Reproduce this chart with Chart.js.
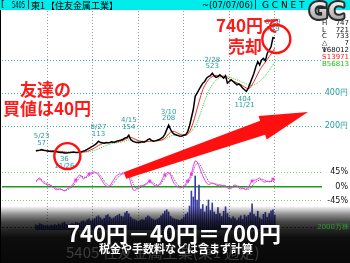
<!DOCTYPE html>
<html>
<head>
<meta charset="utf-8">
<script src="https://cdn.jsdelivr.net/npm/chart.js@4/dist/chart.umd.min.js"></script>
<style>
  html, body { margin: 0; padding: 0; background: #fff; }
  #wrap { position: relative; width: 350px; height: 263px; overflow: hidden; }
  canvas { display: block; }
</style>
</head>
<body>
<div id="wrap"><canvas id="c" width="350" height="263"></canvas></div>
<script>
// half-month periods, 2002/04 (first half) .. 2007/07 (first half)
const periods = [];
for (let y = 2002; y <= 2007; y++) {
  for (let m = 1; m <= 12; m++) {
    if (y === 2002 && m < 4) continue;
    if (y === 2007 && m > 7) continue;
    periods.push(`${y}/${m}a`);
    if (!(y === 2007 && m === 7)) periods.push(`${y}/${m}b`);
  }
}

// weekly close (yen)
const close = [
  50,52,54,57,53,51,49,47,46,47,45,44,41,40,39,36,37,38,
  40,41,42,40,39,42,44,48,52,58,65,72,78,85,95,108,100,98,96,100,98,100,104,102,
  105,110,112,115,120,128,130,145,118,108,104,100,102,100,104,102,108,118,122,112,108,110,114,118,
  125,132,150,178,205,180,160,150,146,142,138,140,144,148,165,200,250,300,380,400,420,440,460,470,
  490,500,505,520,505,495,500,510,500,490,505,460,470,480,470,460,450,455,445,430,420,410,430,460,
  490,520,560,590,570,600,610,595,640,660,680,735,733
];
// 13-week average (red)
const ma13 = [
  50,51,52,53,53,53,52,51,50,49,48,47,46,45,44,42,41,40,
  39,39,39,40,40,40,41,42,44,47,51,56,62,68,75,82,88,93,96,98,99,99,100,101,
  102,104,107,110,114,119,124,129,130,128,123,117,112,108,106,105,105,106,108,110,111,111,111,112,
  115,119,126,138,152,163,168,167,162,156,150,146,143,143,150,165,190,222,262,305,345,385,420,445,
  465,480,492,500,505,507,505,503,503,502,500,492,484,478,472,468,462,456,452,445,437,430,427,432,
  450,470,492,515,538,556,572,588,604,620,636,655,672
];
// 26-week average (green dotted)
const ma26 = [
  50,50,51,51,52,52,52,51,51,50,50,49,48,47,46,45,44,43,
  42,41,41,40,40,40,40,41,42,43,45,47,50,53,57,62,67,72,77,82,86,90,93,95,
  97,99,101,103,106,109,112,115,117,117,116,114,112,110,109,108,107,106,106,107,108,109,110,111,
  113,116,120,126,133,139,144,147,149,150,150,150,149,149,151,157,168,185,195,220,250,285,320,352,
  382,410,432,450,466,478,488,495,499,501,502,500,497,493,488,484,480,476,470,465,460,455,450,447,
  447,450,455,462,470,480,492,505,520,535,552,570,590
];
// oscillator (%), magenta, and its signal (grey dotted)
const osc = [
  17,23,27,17,11,8,5,5,2,-2,-8,-11,-8,-8,-11,-14,-11,-5,
  -2,2,11,20,30,36,33,23,27,33,39,42,45,45,42,36,27,17,8,2,-2,2,11,20,
  30,36,39,39,42,42,39,33,11,-8,-14,-8,-2,2,2,5,8,14,17,11,5,2,2,5,
  14,27,36,42,45,36,20,8,2,-2,-5,-2,2,8,17,27,39,64,80,77,64,48,33,20,
  11,5,8,11,8,5,2,5,2,2,2,-5,-8,-5,2,5,2,-5,-8,-5,-8,-11,-5,8,
  17,20,20,23,27,20,14,14,17,14,17,23,20
];
const sig = [
  15,19,23,22,17,12,8,6,4,1,-3,-7,-9,-9,-10,-12,-12,-9,
  -6,-2,4,12,20,28,32,30,28,29,33,38,41,43,43,40,34,26,17,10,4,1,4,10,
  19,27,33,37,39,40,40,37,28,14,0,-7,-8,-4,0,3,5,9,13,14,11,7,4,4,
  8,17,27,35,40,40,32,21,11,4,0,-2,-1,3,10,19,30,48,65,73,72,64,52,39,
  27,17,11,9,9,8,6,5,4,3,2,0,-3,-5,-3,0,2,1,-2,-5,-6,-7,-9,-7,
  0,9,15,18,20,23,22,18,16,15,15,15,18
];
const oscMarks = [21, 28, 48, 60, 68, 80, 82, 114, 125];
// volume (万株)
const vol = [
  3500,3000,4200,3800,3200,2800,3000,2600,3300,2900,3600,3100,4000,3400,4600,5200,3900,3300,
  3600,4200,3900,5100,4800,4400,5600,6200,5400,6800,7400,6100,6900,7600,8800,9500,8200,7000,7800,9600,10200,8600,7400,8000,
  9000,9800,10500,9200,8800,11500,12500,10800,8600,7400,6900,6200,5800,6400,7000,6600,8200,9400,8800,7600,7000,6500,7200,8000,
  9500,10800,12600,13500,12000,9200,8000,7400,7000,6600,6400,7200,8600,10500,11500,16000,26000,22000,36000,20000,30000,14000,17000,12000,
  16000,20000,13000,18000,12000,10500,15000,11000,9000,12500,15500,11000,8500,7500,8800,7600,6200,8000,9500,7200,10000,8800,9800,11500,
  17500,10500,9000,12500,8000,7000,10500,11800,8500,11000,12800,13500,10000
];

// axis ticks (year starts: 2003..2007 as period index)
const yearPos = [18, 42, 66, 90, 114];
const yearLabels = ['03', '04', '05', '06', '07'];
const priceTicks = [200, 400, 600];
const priceTickLabels = ['200円', '400円', ''];
const oscTicks = [45, 0, -45];
const oscTickLabels = ['45%', '0%', '-45%'];
const volTicks = [2000];
const volTickLabels = ['2000万株'];

// high / low labels
const markIdx = [3, 15, 33, 49, 70, 93, 110, 125];
const markDate = ['5/23', '11/26', '8/27', '4/15', '3/10', '2/28', '11/21', '6/29'];
const markVal = [57, 36, 113, 154, 208, 523, 404, 749];
const markHigh = [true, false, true, true, true, true, false, true];

// info column
const infoKeys = ['H', 'L', 'C', '△', 'V', 'S', 'B'];
const infoVals = ['747', '721', '733', '7', '168012', '13971', '56813'];

const pts = arr => arr.map((v, i) => ({ x: i, y: v }));

const JP = '"Noto Sans CJK JP"';

const overlay = {
  id: 'overlay',
  afterDraw(chart) {
    const c = chart.ctx;
    const xs = chart.scales.x, yp = chart.scales.yp, yo = chart.scales.yo, yv = chart.scales.yv;
    c.save();

    // left border
    c.fillStyle = '#000';
    c.fillRect(0, 0, 1, 263);

    // right-hand scale labels
    c.textAlign = 'right';
    c.textBaseline = 'middle';
    c.font = '8px "DejaVu Sans"';
    c.fillStyle = '#1f9a9a';
    priceTicks.forEach((v, k) => { if (priceTickLabels[k]) c.fillText(priceTickLabels[k], 348, yp.getPixelForValue(v)); });
    c.fillStyle = '#111';
    oscTicks.forEach((v, k) => c.fillText(oscTickLabels[k], 348, yo.getPixelForValue(v)));

    // info column
    c.font = '7px "DejaVu Sans"';
    infoKeys.forEach((k, n) => {
      const y = 23 + n * 6.8;
      c.fillStyle = k === 'S' ? '#ff2020' : k === 'B' ? '#1cc01c' : '#111';
      c.textAlign = 'left';
      c.fillText(k, 322, y);
      c.textAlign = 'right';
      c.fillText(infoVals[n], 349, y);
    });

    // high / low labels
    c.font = '7px "DejaVu Sans"';
    c.textAlign = 'center';
    c.fillStyle = '#2a9c9c';
    markIdx.forEach((i, n) => {
      const px = xs.getPixelForValue(i);
      const py = yp.getPixelForValue(markVal[n]);
      if (markHigh[n]) {
        c.fillText(markDate[n], px, py - 13);
        c.fillText(String(markVal[n]), px, py - 6.5);
      } else {
        c.fillText(String(markVal[n]), px, py + 6.5);
        c.fillText(markDate[n], px, py + 13);
      }
    });

    // red circles around buy / sell points
    c.strokeStyle = '#ff1010';
    c.lineWidth = 2.4;
    const lowI = close.indexOf(Math.min(...close));
    c.beginPath();
    c.arc(xs.getPixelForValue(lowI) + 3, yp.getPixelForValue(close[lowI]) + 3, 13, 0, Math.PI * 2);
    c.stroke();
    const lastI = close.length - 1;
    c.beginPath();
    c.arc(xs.getPixelForValue(lastI) + 1.5, yp.getPixelForValue(close[lastI]) + 1, 14, 0, Math.PI * 2);
    c.stroke();

    // big red arrow
    const tail = [125, 175.5], tip = [308, 112];
    const dx = tip[0] - tail[0], dy = tip[1] - tail[1], L = Math.hypot(dx, dy);
    const ux = dx / L, uy = dy / L, nx = -uy, ny = ux;
    const hb = [tip[0] - ux * 48, tip[1] - uy * 48];
    c.beginPath();
    c.moveTo(tail[0] + nx * 3.4, tail[1] + ny * 3.4);
    c.lineTo(hb[0] + nx * 7.5, hb[1] + ny * 7.5);
    c.lineTo(hb[0] + nx * 12.5, hb[1] + ny * 12.5);
    c.lineTo(tip[0], tip[1]);
    c.lineTo(hb[0] - nx * 12.5, hb[1] - ny * 12.5);
    c.lineTo(hb[0] - nx * 7.5, hb[1] - ny * 7.5);
    c.lineTo(tail[0] - nx * 3.4, tail[1] - ny * 3.4);
    c.closePath();
    c.fillStyle = '#ff1010';
    c.fill();

    // red notes
    c.fillStyle = '#ff1a1a';
    c.font = `bold 17px ${JP}`;
    c.textBaseline = 'middle';
    c.textAlign = 'left';
    c.fillText('友達の', 20, 90);
    c.fillText('買値は40円', 3, 109);
    c.textAlign = 'center';
    c.fillText('740円で', 248, 26);
    c.fillText('売却', 245, 47);

    // dark band at the bottom
    const g = c.createLinearGradient(0, 206, 0, 263);
    g.addColorStop(0, 'rgba(0,0,0,0)');
    g.addColorStop(0.16, 'rgba(0,0,0,0.47)');
    g.addColorStop(0.28, 'rgba(0,0,0,0.73)');
    g.addColorStop(0.42, 'rgba(0,0,0,0.86)');
    g.addColorStop(0.56, 'rgba(0,0,0,0.95)');
    g.addColorStop(1, 'rgba(0,0,0,0.97)');
    c.fillStyle = g;
    c.fillRect(0, 206, 350, 57);

    // volume scale label and year labels
    c.font = '7px "DejaVu Sans"';
    c.textAlign = 'right';
    c.fillStyle = '#2a9a2a';
    volTicks.forEach((v, k) => c.fillText(volTickLabels[k], 349, yv.getPixelForValue(v)));
    c.textAlign = 'center';
    c.fillStyle = '#000';
    yearPos.forEach((v, k) => c.fillText(yearLabels[k], xs.getPixelForValue(v) + 5, 234));

    // ghost title
    c.fillStyle = '#3c3c3c';
    c.font = `15px ${JP}`;
    c.textAlign = 'left';
    c.fillText('5405 住友金属工業(東1 週足)', 66, 252);

    // white captions
    c.fillStyle = '#fff';
    c.textAlign = 'center';
    c.font = `bold 22px ${JP}`;
    c.fillText('740円－40円＝700円', 174, 234);
    c.font = `bold 11px ${JP}`;
    c.fillText('税金や手数料などは含まず計算', 176, 249);

    // header bar
    c.fillStyle = '#00ecec';
    c.fillRect(0, 0, 350, 10);
    c.fillStyle = '#000';
    c.textAlign = 'left';
    c.textBaseline = 'middle';
    c.font = '9px "DejaVu Sans"';
    c.fillText('[', 1, 5);
    c.fillText('5405', 12, 5.5, 13);
    c.fillText('|', 27, 5);
    c.font = `9px ${JP}`;
    c.fillText('東1', 31, 5.5, 14);
    c.fillText('【住友金属工業】', 46, 5.5, 84);
    c.font = '9px "DejaVu Sans"';
    c.fillText('~(07/07/06)', 202, 5.5, 51);
    c.fillText('|', 254, 5);
    c.fillText('G C N E T', 262, 5.5, 46);

    // GC logo
    c.font = 'bold 23px "DejaVu Sans"';
    c.textBaseline = 'alphabetic';
    c.lineJoin = 'round';
    c.lineWidth = 4;
    c.strokeStyle = '#2a2a2a';
    c.strokeText('GC', 309, 19, 40);
    const lg = c.createLinearGradient(0, 2, 0, 19);
    lg.addColorStop(0, '#f2f2f2');
    lg.addColorStop(1, '#a8a8a8');
    c.fillStyle = lg;
    c.fillText('GC', 309, 19, 40);

    c.restore();
  }
};

new Chart(document.getElementById('c'), {
  type: 'line',
  data: {
    datasets: [
      { type: 'bar', data: pts(vol), yAxisID: 'yv', backgroundColor: '#3a3aa4', barThickness: 1, order: 6 },
      { data: pts(ma26), yAxisID: 'yp', borderColor: '#2fd02f', borderWidth: 1, borderDash: [1, 1], pointRadius: 0, order: 5 },
      { data: pts(ma13), yAxisID: 'yp', borderColor: '#ff2828', borderWidth: 1, pointRadius: 0, order: 4 },
      { data: pts(close), yAxisID: 'yp', borderColor: '#000', borderWidth: 1.5, pointRadius: 0, order: 3 },
      { data: pts(sig), yAxisID: 'yo', borderColor: '#555', borderWidth: 1, borderDash: [1, 1], pointRadius: 0, order: 2 },
      {
        data: pts(osc), yAxisID: 'yo', borderColor: '#ff30ff', borderWidth: 1,
        pointStyle: 'rect', pointRadius: c => oscMarks.includes(c.dataIndex) ? 2 : 0,
        pointBackgroundColor: '#ff30ff', pointBorderWidth: 0, order: 1
      }
    ]
  },
  options: {
    responsive: false,
    animation: false,
    devicePixelRatio: 1,
    layout: { padding: { left: 2, right: 28, top: 11, bottom: 33 } },
    plugins: { legend: { display: false }, tooltip: { enabled: false } },
    scales: {
      x: {
        type: 'linear', min: -1, max: 134,
        ticks: { display: false },
        grid: { color: '#999', drawTicks: false },
        border: { display: false, dash: [1, 2] },
        afterBuildTicks: s => { s.ticks = yearPos.map(v => ({ value: v })); }
      },
      yp: {
        position: 'right', min: -430, max: 897,
        ticks: { display: false },
        grid: { color: '#40acac', drawTicks: false },
        border: { display: false, dash: [1, 2] },
        afterBuildTicks: s => { s.ticks = priceTicks.map(v => ({ value: v })); }
      },
      yo: {
        position: 'right', min: -136, max: 548,
        ticks: { display: false },
        grid: {
          color: c => c.tick && c.tick.value === 0 ? '#1f9a1f' : '#7cc87c',
          lineWidth: c => c.tick && c.tick.value === 0 ? 1.5 : 1,
          drawTicks: false
        },
        border: { display: false, dash: c => c.tick && c.tick.value === 0 ? [] : [1, 2] },
        afterBuildTicks: s => { s.ticks = oscTicks.map(v => ({ value: v })); }
      },
      yv: {
        position: 'right', min: 0, max: 146000,
        ticks: { display: false },
        grid: { color: '#2a9a2a', drawTicks: false },
        border: { display: false, dash: [2, 2] },
        afterBuildTicks: s => { s.ticks = volTicks.map(v => ({ value: v })); }
      }
    }
  },
  plugins: [overlay]
});
</script>
</body>
</html>
